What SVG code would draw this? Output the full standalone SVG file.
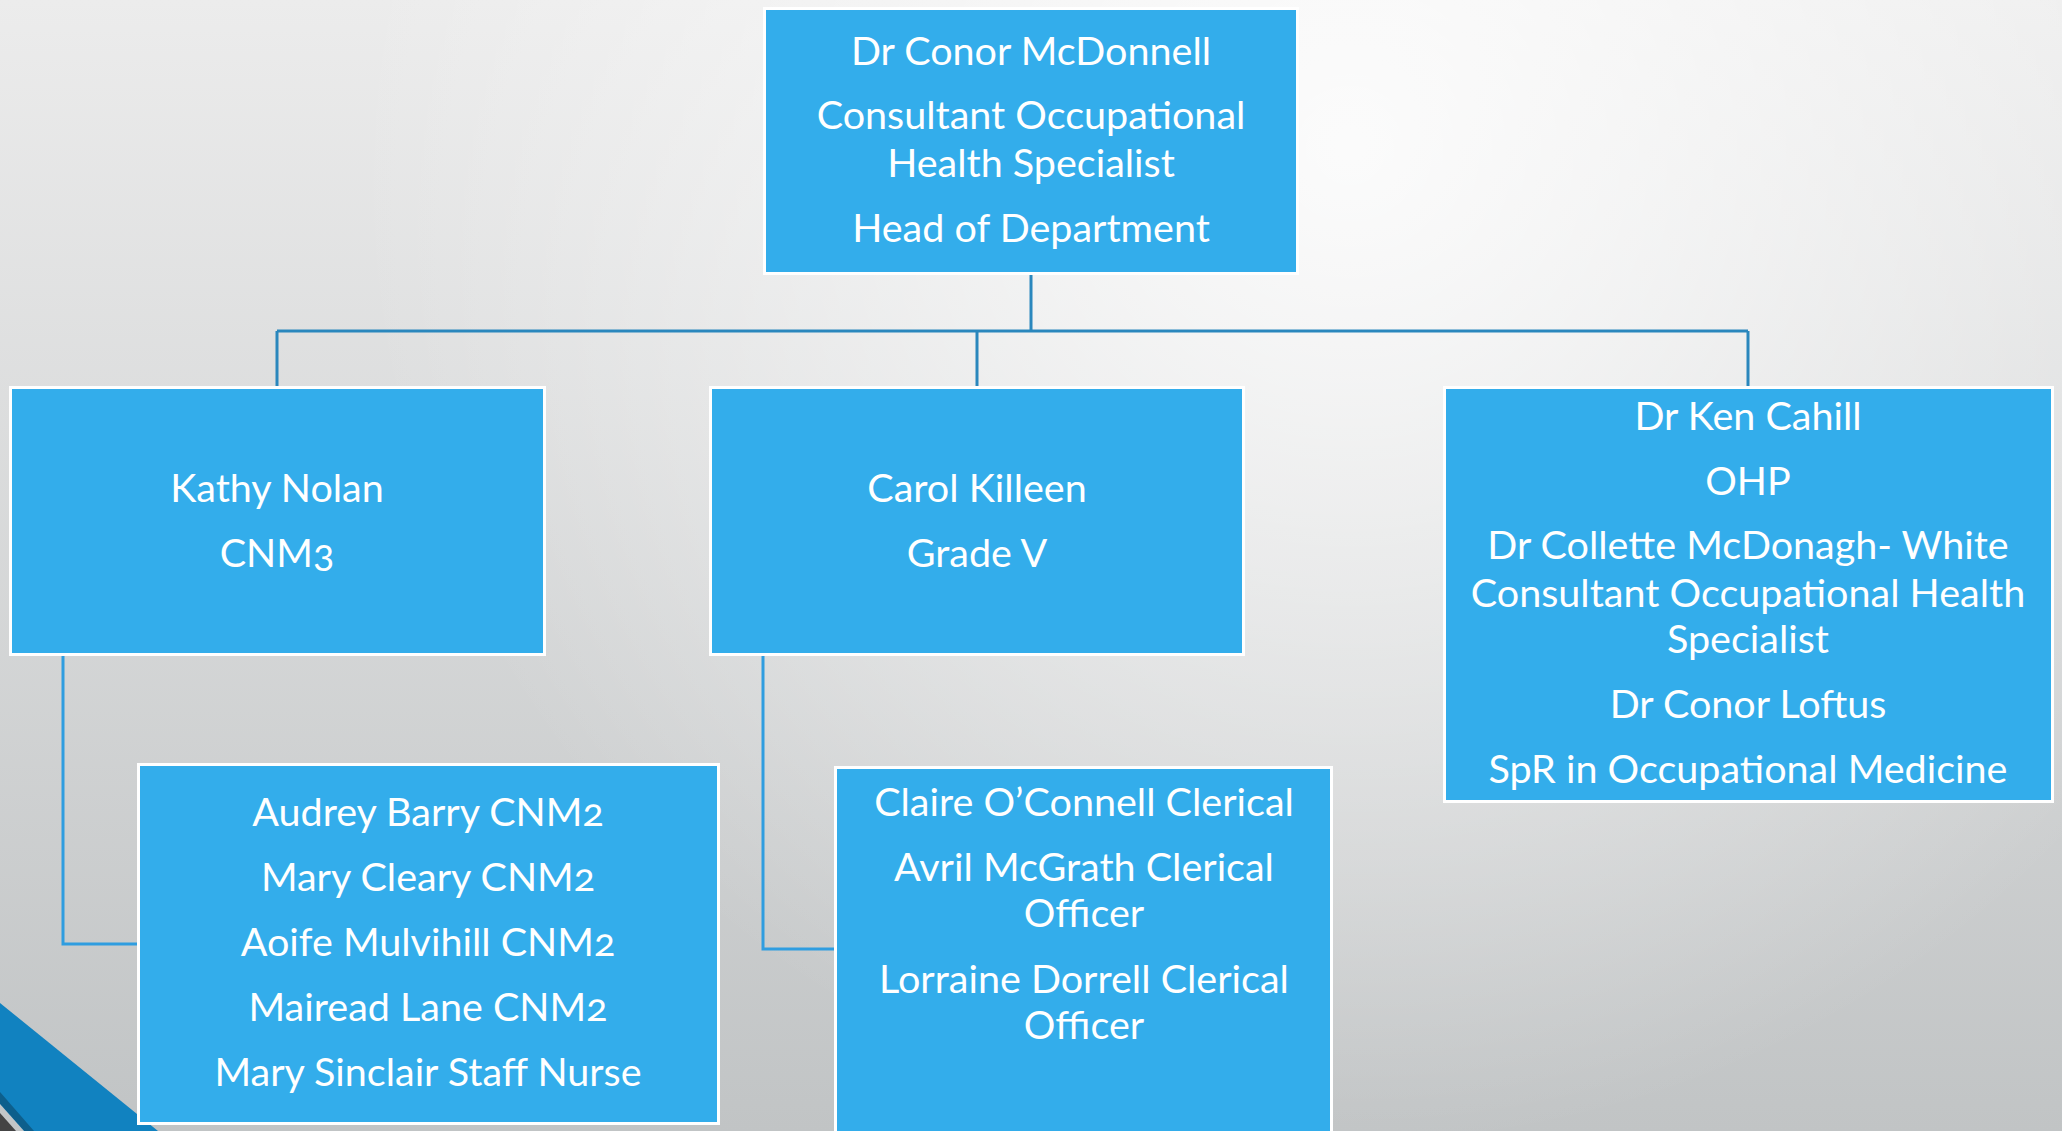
<svg xmlns="http://www.w3.org/2000/svg" width="2062" height="1131" viewBox="0 0 2062 1131">
<defs>
<linearGradient id="bg" x1="0" y1="0" x2="0" y2="1">
<stop offset="0" stop-color="#ececec"/>
<stop offset="1" stop-color="#c1c4c5"/>
</linearGradient>
<radialGradient id="hl" cx="1350" cy="150" r="1000" gradientUnits="userSpaceOnUse">
<stop offset="0" stop-color="#ffffff" stop-opacity="0.85"/>
<stop offset="1" stop-color="#ffffff" stop-opacity="0"/>
</radialGradient>
<style>
.box{fill:#33adeb;stroke:#ffffff;stroke-width:3}
.t{font-family:Lato,"Open Sans",sans-serif;font-size:39.5px;fill:#ffffff;text-anchor:middle;font-variant-numeric:oldstyle-nums}
.c1{fill:none;stroke:#2a87bd;stroke-width:3}
.c2{fill:none;stroke:#2f9de0;stroke-width:3}
</style>
</defs>
<rect x="0" y="0" width="2062" height="1131" fill="url(#bg)"/>
<rect x="0" y="0" width="2062" height="1131" fill="url(#hl)"/>
<g id="corner">
<polygon points="0,1003 158,1131 0,1131" fill="#1182c0"/>
<polygon points="0,1092 34,1131 24,1131 0,1104" fill="#0d5f8c"/>
<polygon points="0,1104 24,1131 0,1131" fill="#c3c6c7"/>
<polygon points="0,1113 16,1131 0,1131" fill="#444444"/>
</g>
<g id="connectors">
<path class="c1" d="M1031,275 V331 M277,331 H1748 M277,331 V386 M977,331 V386 M1748,331 V386"/>
<path class="c2" d="M63,656 V944 H137"/>
<path class="c2" d="M763,656 V949 H834"/>
</g>
<g id="head">
<rect class="box" x="764.5" y="8.5" width="533" height="265"/>
<text class="t" x="1031" y="65">Dr Conor McDonnell</text>
<text class="t" x="1031" y="129">Consultant Occupational</text>
<text class="t" x="1031" y="177">Health Specialist</text>
<text class="t" x="1031" y="242">Head of Department</text>
</g>
<g id="kathy">
<rect class="box" x="10.5" y="387.5" width="534" height="267"/>
<text class="t" x="277" y="502">Kathy Nolan</text>
<text class="t" x="277" y="567">CNM3</text>
</g>
<g id="carol">
<rect class="box" x="710.5" y="387.5" width="533" height="267"/>
<text class="t" x="977" y="502">Carol Killeen</text>
<text class="t" x="977" y="567">Grade V</text>
</g>
<g id="doctors">
<rect class="box" x="1444.5" y="387.5" width="608" height="414"/>
<text class="t" x="1748" y="430">Dr Ken Cahill</text>
<text class="t" x="1748" y="495">OHP</text>
<text class="t" x="1748" y="559">Dr Collette McDonagh- White</text>
<text class="t" x="1748" y="607">Consultant Occupational Health</text>
<text class="t" x="1748" y="653">Specialist</text>
<text class="t" x="1748" y="718">Dr Conor Loftus</text>
<text class="t" x="1748" y="783">SpR in Occupational Medicine</text>
</g>
<g id="nurses">
<rect class="box" x="138.5" y="764.5" width="580" height="359"/>
<text class="t" x="428" y="826">Audrey Barry CNM2</text>
<text class="t" x="428" y="891">Mary Cleary CNM2</text>
<text class="t" x="428" y="956">Aoife Mulvihill CNM2</text>
<text class="t" x="428" y="1021">Mairead Lane CNM2</text>
<text class="t" x="428" y="1086">Mary Sinclair Staff Nurse</text>
</g>
<g id="clerical">
<rect class="box" x="835.5" y="767.5" width="496" height="380"/>
<text class="t" x="1084" y="816">Claire O’Connell Clerical</text>
<text class="t" x="1084" y="881">Avril McGrath Clerical</text>
<text class="t" x="1084" y="927">Officer</text>
<text class="t" x="1084" y="993">Lorraine Dorrell Clerical</text>
<text class="t" x="1084" y="1039">Officer</text>
</g>
</svg>
